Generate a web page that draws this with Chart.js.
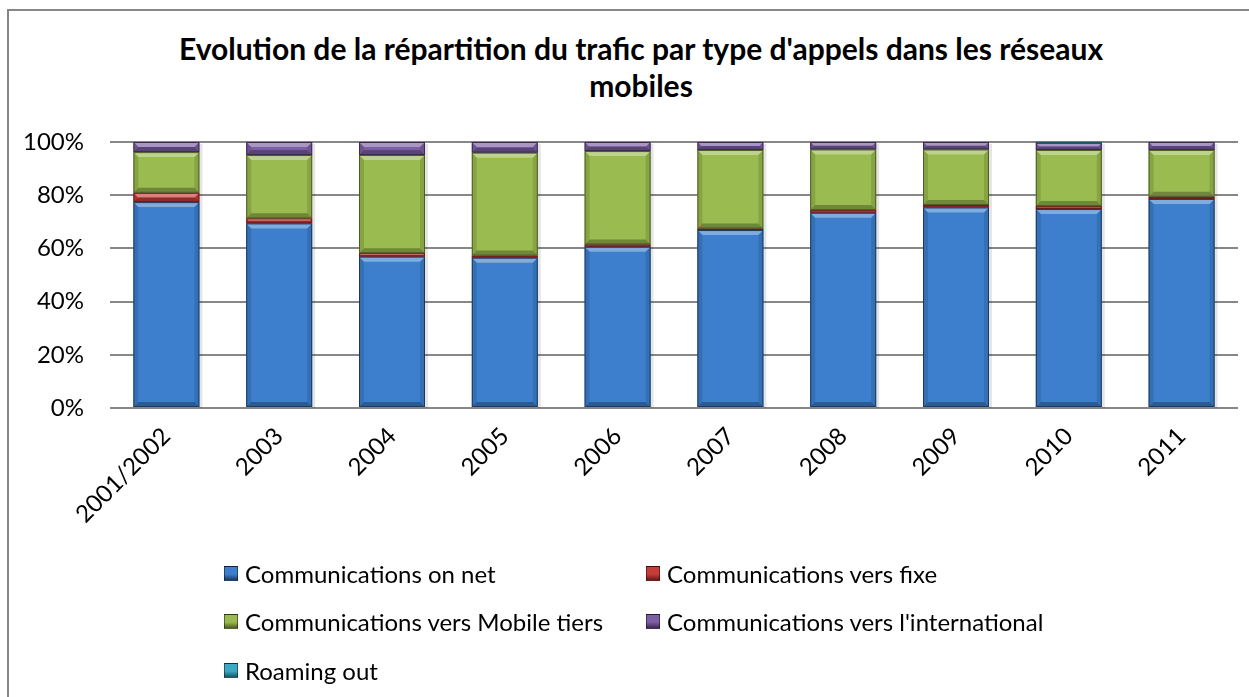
<!DOCTYPE html>
<html>
<head>
<meta charset="utf-8">
<script src="https://cdn.jsdelivr.net/npm/chart.js@4/dist/chart.umd.min.js"></script>
<style>
  html, body { margin: 0; padding: 0; background: #fff; overflow: hidden; }
  #wrap { position: relative; width: 1249px; height: 697px; overflow: hidden; font-family: Lato, 'Open Sans', sans-serif; }
  #frame { position: absolute; left: 7px; top: 9px; width: 1300px; height: 800px; border: 2px solid #878787; }
  #title { position: absolute; left: 0; top: 30px; width: 1282px; text-align: center; font-weight: bold; font-size: 30px; line-height: 37px; color: #000; }
  #chart { position: absolute; left: 0; top: 0; }
  #legend { position: absolute; left: 224px; top: 549px; display: grid; grid-template-columns: 422px 422px; grid-auto-rows: 48.5px; font-size: 24px; color: #000; }
  .item { display: flex; align-items: center; white-space: nowrap; }
  .box { width: 14px; height: 15px; margin-right: 7px; box-sizing: border-box; border: 1px solid rgba(0,0,0,0.45); }
</style>
</head>
<body>
<div id="wrap">
  <div id="frame"></div>
  <div id="title">Evolution de la répartition du trafic par type d'appels dans les réseaux<br>mobiles</div>
  <canvas id="chart" width="1249" height="697"></canvas>
  <div id="legend"></div>
</div>
<script>
const years = ['2001/2002', '2003', '2004', '2005', '2006', '2007', '2008', '2009', '2010', '2011'];
const onNet = [77.4, 69.4, 56.9, 56.5, 60.6, 66.9, 73.4, 75.4, 74.8, 78.6];
const versFixe = [3.5, 1.9, 1.3, 0.8, 0.9, 0.6, 1.0, 0.9, 1.1, 0.8];
const versMobileTiers = [15.3, 23.8, 36.9, 38.7, 35.1, 29.5, 22.8, 20.9, 21.1, 17.6];
const versInternational = [3.8, 4.9, 4.9, 4.0, 3.4, 3.0, 2.8, 2.8, 2.7, 3.0];
const roamingOut = [0, 0, 0, 0, 0, 0, 0, 0, 0.3, 0];
const yTicks = ['0%', '20%', '40%', '60%', '80%', '100%'];

const series = [
    {label: 'Communications on net', data: onNet, color: '#3d7fcd', edge: '#1c3a60'},
    {label: 'Communications vers fixe', data: versFixe, color: '#c63d3a', edge: '#6a1a18'},
    {label: 'Communications vers Mobile tiers', data: versMobileTiers, color: '#9abb4f', edge: '#4c5e22'},
    {label: "Communications vers l'international", data: versInternational, color: '#7d5fa3', edge: '#3b2a52'},
    {label: 'Roaming out', data: roamingOut, color: '#3fa9c5', edge: '#1c5566'}
];

// bevel look like the office chart
const bevelPlugin = {
    id: 'bevel',
    beforeDatasetsDraw(chart) {
        // soft shadow on the right of each column
        const ctx = chart.ctx;
        const meta = chart.getDatasetMeta(0);
        ctx.save();
        ctx.fillStyle = 'rgba(0,0,0,0.10)';
        meta.data.forEach(bar => {
            const r = bar.x + bar.width / 2;
            ctx.fillRect(r, chart.scales.y.getPixelForValue(100) + 2, 3, chart.scales.y.getPixelForValue(0) - chart.scales.y.getPixelForValue(100) - 2);
        });
        ctx.restore();
    },
    afterDatasetsDraw(chart) {
        const ctx = chart.ctx;
        chart.data.datasets.forEach((ds, i) => {
            const meta = chart.getDatasetMeta(i);
            meta.data.forEach(bar => {
                const l = bar.x - bar.width / 2, r = bar.x + bar.width / 2;
                const t = Math.min(bar.y, bar.base), b = Math.max(bar.y, bar.base);
                const h = b - t;
                if (h < 0.5) return;
                const s = Math.min(5, h / 2);
                ctx.save();
                ctx.fillStyle = 'rgba(255,255,255,0.35)';
                ctx.beginPath();
                ctx.moveTo(l, t); ctx.lineTo(r, t); ctx.lineTo(r - s, t + s); ctx.lineTo(l + s, t + s);
                ctx.closePath(); ctx.fill();
                ctx.fillStyle = 'rgba(0,0,0,0.28)';
                ctx.beginPath();
                ctx.moveTo(l, b); ctx.lineTo(r, b); ctx.lineTo(r - s, b - s); ctx.lineTo(l + s, b - s);
                ctx.closePath(); ctx.fill();
                ctx.fillStyle = 'rgba(0,0,0,0.12)';
                ctx.beginPath();
                ctx.moveTo(l, t); ctx.lineTo(l + s, t + s); ctx.lineTo(l + s, b - s); ctx.lineTo(l, b);
                ctx.closePath(); ctx.fill();
                ctx.beginPath();
                ctx.moveTo(r, t); ctx.lineTo(r - s, t + s); ctx.lineTo(r - s, b - s); ctx.lineTo(r, b);
                ctx.closePath(); ctx.fill();
                ctx.strokeStyle = ds.borderColor;
                ctx.lineWidth = 1;
                ctx.strokeRect(l + 0.5, t + 0.5, r - l - 1, h - 1);
                ctx.restore();
            });
        });
    }
};

const chart = new Chart(document.getElementById('chart').getContext('2d'), {
    type: 'bar',
    data: {
        labels: years,
        datasets: series.map(s => ({
            label: s.label,
            data: s.data,
            backgroundColor: s.color,
            borderColor: s.edge,
            borderWidth: 0,
            categoryPercentage: 1,
            barPercentage: 0.585
        }))
    },
    options: {
        responsive: false,
        animation: false,
        layout: {padding: {left: 10, right: 11, top: 142, bottom: 159}},
        plugins: {legend: {display: false}, title: {display: false}, tooltip: {enabled: false}},
        scales: {
            x: {
                stacked: true,
                grid: {display: false},
                border: {display: false},
                ticks: {
                    color: '#000', font: {family: 'Lato', size: 24},
                    minRotation: 45, maxRotation: 45, padding: 6, autoSkip: false
                },
                afterFit: scale => { scale.height = 130; }
            },
            y: {
                stacked: true,
                min: 0, max: 100,
                grid: {color: '#878787', lineWidth: 2, drawTicks: false},
                border: {display: false},
                ticks: {
                    stepSize: 20, padding: 26, color: '#000', font: {family: 'Lato', size: 24},
                    callback: (v, i) => yTicks[i]
                },
                afterFit: scale => { scale.width = 100; }
            }
        }
    },
    plugins: [bevelPlugin]
});

const legendDiv = document.getElementById('legend');
chart.data.datasets.forEach(ds => {
    const item = document.createElement('div');
    item.className = 'item';
    item.innerHTML = `<span class="box" style="background:linear-gradient(${ds.backgroundColor} 55%, ${ds.borderColor});"></span><span>${ds.label}</span>`;
    legendDiv.appendChild(item);
});
</script>
</body>
</html>
